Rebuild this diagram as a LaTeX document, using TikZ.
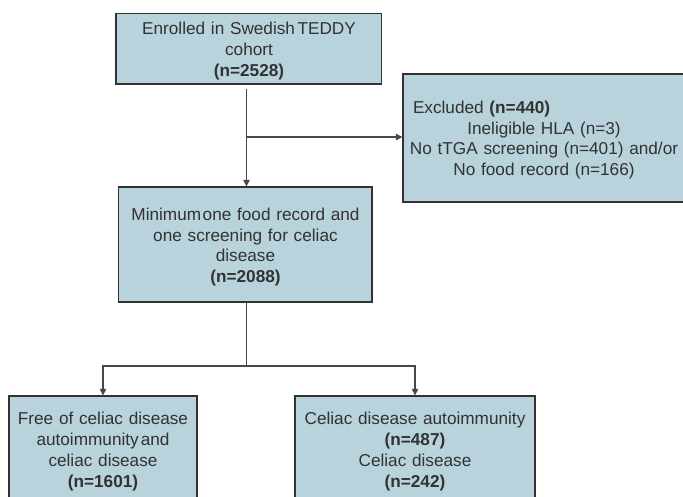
\documentclass[tikz,border=0pt]{standalone}
\usepackage{fontspec}
\setmainfont{Liberation Sans}
\usetikzlibrary{arrows.meta,calc}
\definecolor{boxfill}{RGB}{185,211,221}
\definecolor{boxline}{RGB}{50,50,50}
\definecolor{txt}{RGB}{50,50,50}
\begin{document}
\begin{tikzpicture}[x=1pt,y=-1pt,
  flowbox/.style={draw=boxline,line width=1.3pt,fill=boxfill,rectangle,inner sep=0pt},
  boxtext/.style={inner sep=0pt,align=center,text=txt,font=\fontsize{17.2}{20.7}\selectfont},
  conn/.style={draw=boxline!90,line width=1.2pt},
  arr/.style={conn,-{Triangle[length=6.5pt,width=6.5pt]}}]
\clip (0,0) rectangle (683,496);
\fill[white] (0,0) rectangle (683,496);
% boxes
\node[flowbox,minimum width=265.5pt,minimum height=70.7pt] (b1) at (248.75,48.7) {};
\node[flowbox,minimum width=283pt,minimum height=128pt] (ex) at (544.5,138) {};
\node[flowbox,minimum width=253.5pt,minimum height=115pt] (b2) at (245.25,244.5) {};
\node[flowbox,minimum width=188pt,minimum height=108pt] (bl) at (103,450) {};
\node[flowbox,minimum width=240pt,minimum height=108pt] (br) at (415,450) {};
% texts
\node[boxtext,text width=260pt] (b1t) at (249,51)
  {Enrolled in Swedish\hspace{2.5pt}TEDDY\\ cohort\\ \textbf{(n=2528)}};
\node[boxtext,text width=272pt] (ext) at (544,140)
  {\hspace*{5pt}Excluded \textbf{(n=440)}\hfill\null\\ Ineligible HLA (n=3)\\ No tTGA screening (n=401) and/or\\ No food record (n=166)};
\node[boxtext,text width=248pt] (b2t) at (245.5,247)
  {Minimum\hspace{1.5pt}one food record and\\ one screening for celiac\\ disease\\ \textbf{(n=2088)}};
\node[boxtext,text width=184pt] (blt) at (103,451.5)
  {Free of celiac disease\\ autoimmunity\hspace{2pt}and\\ celiac disease\\ \textbf{(n=1601)}};
\node[boxtext,text width=236pt] (brt) at (415,451.5)
  {Celiac disease autoimmunity\\ \textbf{(n=487)}\\ Celiac disease\\ \textbf{(n=242)}};
% connectors
\coordinate (j1) at (246.5,137);
\coordinate (j2) at (246.5,366);
\draw[arr] ([yshift=-4pt]b1.south -| j1) -- (j1 |- b2.north);
\draw[arr] (j1) -- (j1 -| ex.west);
\draw[conn] (b2.south -| j2) -- (j2);
\draw[arr] (j2) -| (bl.north);
\draw[arr] (j2) -| (br.north);
\end{tikzpicture}
\end{document}
